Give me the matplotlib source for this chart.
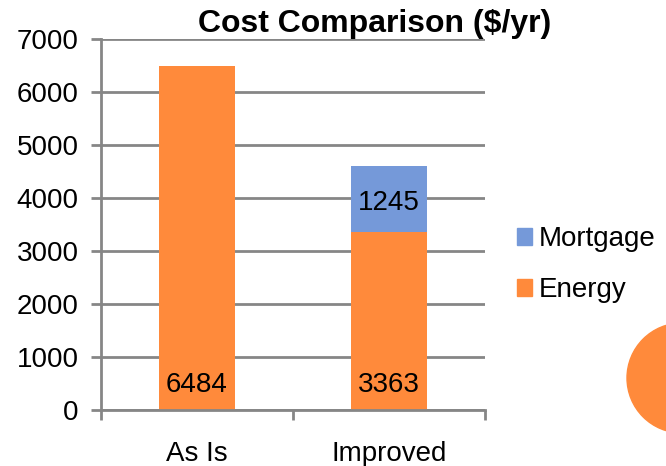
import matplotlib.pyplot as plt
import matplotlib.patches as mpatches
import numpy as np

plt.rcParams['font.family'] = ['Liberation Sans', 'DejaVu Sans']

# Data
categories = ['As Is', 'Improved']
energy = [6484, 3363]
mortgage = [0, 1245]
yticks = [0, 1000, 2000, 3000, 4000, 5000, 6000, 7000]

orange = '#FF8A3B'
blue = '#7599D9'
grid_c = '#868686'
fs = 20

fig = plt.figure(figsize=(6.66, 4.66), dpi=100)
ax = fig.add_axes([0.1517, 0.1202, 0.5766, 0.7961])

x = np.arange(len(categories))
ax.bar(x, energy, width=0.4, color=orange, label='Energy', zorder=2)
ax.bar(x, mortgage, width=0.4, bottom=energy, color=blue, label='Mortgage', zorder=2)

# value labels
for i in range(len(categories)):
    ax.text(x[i], 470, str(energy[i]), ha='center', va='center', fontsize=fs, zorder=3)
    if mortgage[i] > 0:
        ax.text(x[i], energy[i] + mortgage[i] / 2 - 80, str(mortgage[i]),
                ha='center', va='center', fontsize=fs, zorder=3)

ax.set_xlim(-0.5, 1.5)
ax.set_ylim(0, 7000)
ax.set_yticks(yticks)
ax.set_yticklabels([str(v) for v in yticks], fontsize=fs)
ax.yaxis.grid(True, color=grid_c, linewidth=2, zorder=0)
ax.set_xticks([-0.5, 0.5, 1.5])
ax.set_xticklabels([])
ax.set_xticks(x, minor=True)
ax.set_xticklabels(categories, minor=True, fontsize=fs)
ax.tick_params(axis='x', which='minor', length=0, pad=22)
ax.tick_params(axis='x', which='major', length=7, width=2, color=grid_c)
ax.tick_params(axis='y', length=7, width=2, color=grid_c, pad=9)

for s in ['top', 'right']:
    ax.spines[s].set_visible(False)
for s in ['left', 'bottom']:
    ax.spines[s].set_color(grid_c)
    ax.spines[s].set_linewidth(2)

fig.text(0.563, 0.931, 'Cost Comparison ($/yr)', ha='center', va='baseline',
         fontsize=23, fontweight='bold')

handles = [mpatches.Patch(color=blue, label='Mortgage'),
           mpatches.Patch(color=orange, label='Energy')]
fig.legend(handles=handles, loc='center left', bbox_to_anchor=(0.738, 0.432),
           frameon=False, fontsize=fs, handlelength=0.55, handleheight=0.55,
           handletextpad=0.26, labelspacing=0.9)

# decorative circle at bottom right
fig.patches.append(mpatches.Circle((682, 466 - 378), 55, transform=None,
                                   color=orange, zorder=5))

fig.savefig('out.png', dpi=100)
